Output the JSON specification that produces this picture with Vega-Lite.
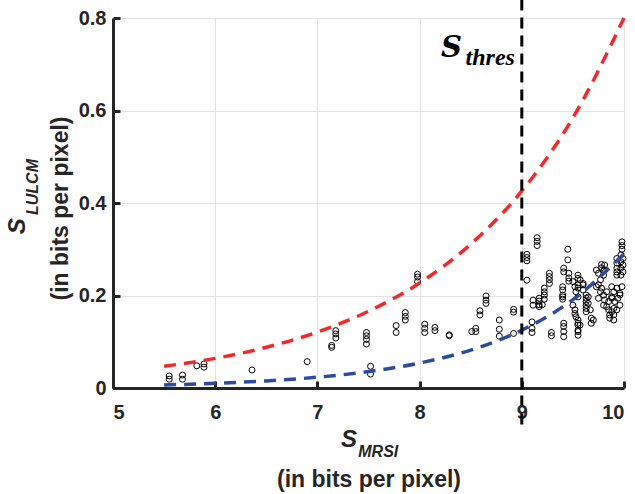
{
  "$schema": "https://vega.github.io/schema/vega-lite/v6.json",
  "width": 511,
  "height": 370,
  "autosize": {"type": "none"},
  "padding": {"left": 113, "top": 18, "right": 11, "bottom": 106},
  "background": "white",
  "config": {
    "view": {"stroke": null},
    "axis": {
      "domainColor": "#262626",
      "domainWidth": 3,
      "tickColor": "#262626",
      "tickWidth": 3,
      "gridColor": "#e3e3e3",
      "gridWidth": 1,
      "labelFont": "Liberation Sans",
      "labelFontWeight": "bold",
      "labelFontSize": 20,
      "labelColor": "#262626",
      "titleFont": "Liberation Sans",
      "titleFontWeight": "bold",
      "titleFontSize": 23,
      "titleColor": "#262626"
    }
  },
  "resolve": {"axis": {"x": "independent", "y": "independent"}},
  "datasets": {
    "samples": [
      {"s_mrsi": 5.55, "s_lulcm": 0.019}, {"s_mrsi": 5.55, "s_lulcm": 0.026},
      {"s_mrsi": 5.68, "s_lulcm": 0.019}, {"s_mrsi": 5.68, "s_lulcm": 0.028},
      {"s_mrsi": 5.82, "s_lulcm": 0.048}, {"s_mrsi": 5.89, "s_lulcm": 0.045},
      {"s_mrsi": 5.89, "s_lulcm": 0.052}, {"s_mrsi": 6.36, "s_lulcm": 0.039},
      {"s_mrsi": 6.9, "s_lulcm": 0.057}, {"s_mrsi": 7.14, "s_lulcm": 0.088},
      {"s_mrsi": 7.14, "s_lulcm": 0.092}, {"s_mrsi": 7.18, "s_lulcm": 0.108},
      {"s_mrsi": 7.18, "s_lulcm": 0.117}, {"s_mrsi": 7.18, "s_lulcm": 0.124},
      {"s_mrsi": 7.48, "s_lulcm": 0.095}, {"s_mrsi": 7.48, "s_lulcm": 0.105},
      {"s_mrsi": 7.48, "s_lulcm": 0.113}, {"s_mrsi": 7.48, "s_lulcm": 0.12},
      {"s_mrsi": 7.52, "s_lulcm": 0.03}, {"s_mrsi": 7.52, "s_lulcm": 0.047},
      {"s_mrsi": 7.77, "s_lulcm": 0.12}, {"s_mrsi": 7.77, "s_lulcm": 0.135},
      {"s_mrsi": 7.86, "s_lulcm": 0.147}, {"s_mrsi": 7.86, "s_lulcm": 0.155},
      {"s_mrsi": 7.86, "s_lulcm": 0.163}, {"s_mrsi": 7.98, "s_lulcm": 0.23},
      {"s_mrsi": 7.98, "s_lulcm": 0.24}, {"s_mrsi": 7.98, "s_lulcm": 0.246},
      {"s_mrsi": 8.05, "s_lulcm": 0.12}, {"s_mrsi": 8.05, "s_lulcm": 0.129},
      {"s_mrsi": 8.05, "s_lulcm": 0.138}, {"s_mrsi": 8.15, "s_lulcm": 0.124},
      {"s_mrsi": 8.15, "s_lulcm": 0.131}, {"s_mrsi": 8.29, "s_lulcm": 0.113},
      {"s_mrsi": 8.29, "s_lulcm": 0.115}, {"s_mrsi": 8.51, "s_lulcm": 0.122},
      {"s_mrsi": 8.55, "s_lulcm": 0.122}, {"s_mrsi": 8.55, "s_lulcm": 0.129},
      {"s_mrsi": 8.59, "s_lulcm": 0.158}, {"s_mrsi": 8.59, "s_lulcm": 0.167},
      {"s_mrsi": 8.65, "s_lulcm": 0.183}, {"s_mrsi": 8.65, "s_lulcm": 0.19},
      {"s_mrsi": 8.65, "s_lulcm": 0.199}, {"s_mrsi": 8.78, "s_lulcm": 0.112},
      {"s_mrsi": 8.78, "s_lulcm": 0.127}, {"s_mrsi": 8.78, "s_lulcm": 0.147},
      {"s_mrsi": 8.92, "s_lulcm": 0.118}, {"s_mrsi": 8.92, "s_lulcm": 0.164},
      {"s_mrsi": 8.92, "s_lulcm": 0.17},
      {"s_mrsi": 9.05, "s_lulcm": 0.233}, {"s_mrsi": 9.05, "s_lulcm": 0.275},
      {"s_mrsi": 9.05, "s_lulcm": 0.282}, {"s_mrsi": 9.05, "s_lulcm": 0.289},
      {"s_mrsi": 9.1, "s_lulcm": 0.12}, {"s_mrsi": 9.1, "s_lulcm": 0.129},
      {"s_mrsi": 9.1, "s_lulcm": 0.143}, {"s_mrsi": 9.11, "s_lulcm": 0.179},
      {"s_mrsi": 9.11, "s_lulcm": 0.19}, {"s_mrsi": 9.15, "s_lulcm": 0.308},
      {"s_mrsi": 9.15, "s_lulcm": 0.317}, {"s_mrsi": 9.15, "s_lulcm": 0.325},
      {"s_mrsi": 9.17, "s_lulcm": 0.176}, {"s_mrsi": 9.17, "s_lulcm": 0.18},
      {"s_mrsi": 9.17, "s_lulcm": 0.188}, {"s_mrsi": 9.17, "s_lulcm": 0.194},
      {"s_mrsi": 9.2, "s_lulcm": 0.18}, {"s_mrsi": 9.22, "s_lulcm": 0.192},
      {"s_mrsi": 9.22, "s_lulcm": 0.201}, {"s_mrsi": 9.22, "s_lulcm": 0.208},
      {"s_mrsi": 9.22, "s_lulcm": 0.216}, {"s_mrsi": 9.27, "s_lulcm": 0.226},
      {"s_mrsi": 9.27, "s_lulcm": 0.234}, {"s_mrsi": 9.27, "s_lulcm": 0.241},
      {"s_mrsi": 9.27, "s_lulcm": 0.248}, {"s_mrsi": 9.29, "s_lulcm": 0.113},
      {"s_mrsi": 9.29, "s_lulcm": 0.12}, {"s_mrsi": 9.4, "s_lulcm": 0.192},
      {"s_mrsi": 9.4, "s_lulcm": 0.197}, {"s_mrsi": 9.4, "s_lulcm": 0.201},
      {"s_mrsi": 9.4, "s_lulcm": 0.212}, {"s_mrsi": 9.4, "s_lulcm": 0.219},
      {"s_mrsi": 9.41, "s_lulcm": 0.111}, {"s_mrsi": 9.41, "s_lulcm": 0.122},
      {"s_mrsi": 9.41, "s_lulcm": 0.133}, {"s_mrsi": 9.41, "s_lulcm": 0.14},
      {"s_mrsi": 9.41, "s_lulcm": 0.251}, {"s_mrsi": 9.41, "s_lulcm": 0.259},
      {"s_mrsi": 9.45, "s_lulcm": 0.277}, {"s_mrsi": 9.45, "s_lulcm": 0.3},
      {"s_mrsi": 9.46, "s_lulcm": 0.231}, {"s_mrsi": 9.46, "s_lulcm": 0.238},
      {"s_mrsi": 9.46, "s_lulcm": 0.248}, {"s_mrsi": 9.5, "s_lulcm": 0.179},
      {"s_mrsi": 9.5, "s_lulcm": 0.23}, {"s_mrsi": 9.52, "s_lulcm": 0.161},
      {"s_mrsi": 9.52, "s_lulcm": 0.169}, {"s_mrsi": 9.52, "s_lulcm": 0.219},
      {"s_mrsi": 9.53, "s_lulcm": 0.208}, {"s_mrsi": 9.53, "s_lulcm": 0.154},
      {"s_mrsi": 9.55, "s_lulcm": 0.114}, {"s_mrsi": 9.55, "s_lulcm": 0.122},
      {"s_mrsi": 9.55, "s_lulcm": 0.125}, {"s_mrsi": 9.55, "s_lulcm": 0.136},
      {"s_mrsi": 9.55, "s_lulcm": 0.14}, {"s_mrsi": 9.55, "s_lulcm": 0.147},
      {"s_mrsi": 9.55, "s_lulcm": 0.197}, {"s_mrsi": 9.55, "s_lulcm": 0.216},
      {"s_mrsi": 9.55, "s_lulcm": 0.223}, {"s_mrsi": 9.55, "s_lulcm": 0.237},
      {"s_mrsi": 9.55, "s_lulcm": 0.244}, {"s_mrsi": 9.57, "s_lulcm": 0.234},
      {"s_mrsi": 9.57, "s_lulcm": 0.136}, {"s_mrsi": 9.6, "s_lulcm": 0.212},
      {"s_mrsi": 9.6, "s_lulcm": 0.223}, {"s_mrsi": 9.6, "s_lulcm": 0.226},
      {"s_mrsi": 9.63, "s_lulcm": 0.165}, {"s_mrsi": 9.63, "s_lulcm": 0.172},
      {"s_mrsi": 9.63, "s_lulcm": 0.179}, {"s_mrsi": 9.63, "s_lulcm": 0.187},
      {"s_mrsi": 9.63, "s_lulcm": 0.194}, {"s_mrsi": 9.63, "s_lulcm": 0.201},
      {"s_mrsi": 9.65, "s_lulcm": 0.197}, {"s_mrsi": 9.65, "s_lulcm": 0.183},
      {"s_mrsi": 9.67, "s_lulcm": 0.169}, {"s_mrsi": 9.68, "s_lulcm": 0.14},
      {"s_mrsi": 9.68, "s_lulcm": 0.151}, {"s_mrsi": 9.7, "s_lulcm": 0.147},
      {"s_mrsi": 9.73, "s_lulcm": 0.255}, {"s_mrsi": 9.73, "s_lulcm": 0.219},
      {"s_mrsi": 9.75, "s_lulcm": 0.248}, {"s_mrsi": 9.75, "s_lulcm": 0.223},
      {"s_mrsi": 9.75, "s_lulcm": 0.194}, {"s_mrsi": 9.77, "s_lulcm": 0.234},
      {"s_mrsi": 9.77, "s_lulcm": 0.208}, {"s_mrsi": 9.78, "s_lulcm": 0.216},
      {"s_mrsi": 9.78, "s_lulcm": 0.26}, {"s_mrsi": 9.78, "s_lulcm": 0.267},
      {"s_mrsi": 9.8, "s_lulcm": 0.244}, {"s_mrsi": 9.8, "s_lulcm": 0.253},
      {"s_mrsi": 9.8, "s_lulcm": 0.179}, {"s_mrsi": 9.8, "s_lulcm": 0.201},
      {"s_mrsi": 9.81, "s_lulcm": 0.255}, {"s_mrsi": 9.81, "s_lulcm": 0.266},
      {"s_mrsi": 9.81, "s_lulcm": 0.19}, {"s_mrsi": 9.83, "s_lulcm": 0.176},
      {"s_mrsi": 9.83, "s_lulcm": 0.208}, {"s_mrsi": 9.85, "s_lulcm": 0.169},
      {"s_mrsi": 9.85, "s_lulcm": 0.187}, {"s_mrsi": 9.86, "s_lulcm": 0.151},
      {"s_mrsi": 9.86, "s_lulcm": 0.158}, {"s_mrsi": 9.88, "s_lulcm": 0.165},
      {"s_mrsi": 9.88, "s_lulcm": 0.219}, {"s_mrsi": 9.88, "s_lulcm": 0.197},
      {"s_mrsi": 9.88, "s_lulcm": 0.194}, {"s_mrsi": 9.9, "s_lulcm": 0.147},
      {"s_mrsi": 9.9, "s_lulcm": 0.172}, {"s_mrsi": 9.9, "s_lulcm": 0.208},
      {"s_mrsi": 9.9, "s_lulcm": 0.158}, {"s_mrsi": 9.91, "s_lulcm": 0.187},
      {"s_mrsi": 9.93, "s_lulcm": 0.169}, {"s_mrsi": 9.93, "s_lulcm": 0.216},
      {"s_mrsi": 9.93, "s_lulcm": 0.244}, {"s_mrsi": 9.93, "s_lulcm": 0.251},
      {"s_mrsi": 9.93, "s_lulcm": 0.259}, {"s_mrsi": 9.93, "s_lulcm": 0.27},
      {"s_mrsi": 9.93, "s_lulcm": 0.28}, {"s_mrsi": 9.94, "s_lulcm": 0.194},
      {"s_mrsi": 9.96, "s_lulcm": 0.179}, {"s_mrsi": 9.96, "s_lulcm": 0.205},
      {"s_mrsi": 9.96, "s_lulcm": 0.201}, {"s_mrsi": 9.97, "s_lulcm": 0.244},
      {"s_mrsi": 9.97, "s_lulcm": 0.259}, {"s_mrsi": 9.97, "s_lulcm": 0.273},
      {"s_mrsi": 9.97, "s_lulcm": 0.288}, {"s_mrsi": 9.98, "s_lulcm": 0.219},
      {"s_mrsi": 9.98, "s_lulcm": 0.3}, {"s_mrsi": 9.98, "s_lulcm": 0.308},
      {"s_mrsi": 9.98, "s_lulcm": 0.316}, {"s_mrsi": 9.99, "s_lulcm": 0.266},
      {"s_mrsi": 9.99, "s_lulcm": 0.251}, {"s_mrsi": 9.99, "s_lulcm": 0.28}
    ],
    "upper": [
      {"s_mrsi": 5.5, "s_lulcm": 0.047}, {"s_mrsi": 6, "s_lulcm": 0.064},
      {"s_mrsi": 6.5, "s_lulcm": 0.088}, {"s_mrsi": 7, "s_lulcm": 0.121},
      {"s_mrsi": 7.5, "s_lulcm": 0.166}, {"s_mrsi": 8, "s_lulcm": 0.227},
      {"s_mrsi": 8.5, "s_lulcm": 0.311}, {"s_mrsi": 9, "s_lulcm": 0.426},
      {"s_mrsi": 9.5, "s_lulcm": 0.584}, {"s_mrsi": 10, "s_lulcm": 0.8}
    ],
    "lower": [
      {"s_mrsi": 5.5, "s_lulcm": 0.0066}, {"s_mrsi": 6, "s_lulcm": 0.0101},
      {"s_mrsi": 6.5, "s_lulcm": 0.0153}, {"s_mrsi": 7, "s_lulcm": 0.0233},
      {"s_mrsi": 7.5, "s_lulcm": 0.0355}, {"s_mrsi": 8, "s_lulcm": 0.054},
      {"s_mrsi": 8.5, "s_lulcm": 0.082}, {"s_mrsi": 9, "s_lulcm": 0.125},
      {"s_mrsi": 9.5, "s_lulcm": 0.191}, {"s_mrsi": 10, "s_lulcm": 0.29}
    ],
    "anchor": [{}]
  },
  "layer": [
    {
      "data": {"name": "samples"},
      "mark": {"type": "point", "shape": "circle", "filled": false, "stroke": "black", "strokeWidth": 1, "size": 36, "opacity": 1},
      "encoding": {
        "x": {
          "field": "s_mrsi", "type": "quantitative",
          "scale": {"domain": [5, 10], "nice": false, "zero": false},
          "axis": {
            "values": [5, 6, 7, 8, 9, 10],
            "format": "d",
            "ticks": false,
            "labelPadding": 14,
            "title": "(in bits per pixel)",
            "titleY": 80,
            "titleBaseline": "top"
          }
        },
        "y": {
          "field": "s_lulcm", "type": "quantitative",
          "scale": {"domain": [0, 0.8], "nice": false, "zero": false},
          "axis": {
            "values": [0, 0.2, 0.4, 0.6, 0.8],
            "format": ".1~f",
            "ticks": false,
            "labelPadding": 7,
            "title": "(in bits per pixel)",
            "titleX": -53,
            "titleY": 190,
            "titleBaseline": "middle",
            "titleAngle": -90
          }
        }
      }
    },
    {
      "data": {"name": "upper"},
      "mark": {"type": "line", "color": "#f42a2a", "strokeWidth": 3.5, "strokeDash": [12, 8], "interpolate": "monotone"},
      "encoding": {
        "x": {
          "field": "s_mrsi", "type": "quantitative",
          "axis": {"orient": "top", "offset": -370, "values": [5, 6, 7, 8, 9, 10], "labels": false, "domain": false, "grid": false, "ticks": true, "tickSize": 7, "title": null}
        },
        "y": {
          "field": "s_lulcm", "type": "quantitative",
          "axis": {"orient": "right", "offset": -511, "values": [0, 0.2, 0.4, 0.6, 0.8], "labels": false, "domain": false, "grid": false, "ticks": true, "tickSize": 7, "title": null}
        }
      }
    },
    {
      "data": {"name": "lower"},
      "mark": {"type": "line", "color": "#2c4ba2", "strokeWidth": 3.5, "strokeDash": [12, 8], "interpolate": "monotone"},
      "encoding": {
        "x": {"field": "s_mrsi", "type": "quantitative", "axis": null},
        "y": {"field": "s_lulcm", "type": "quantitative", "axis": null}
      }
    },
    {
      "data": {"name": "anchor"},
      "mark": {"type": "rule", "color": "black", "strokeWidth": 3, "strokeDash": [11, 7], "clip": false},
      "encoding": {
        "x": {"datum": 9, "type": "quantitative", "axis": null},
        "y": {"datum": 0.84, "type": "quantitative", "axis": null},
        "y2": {"datum": -0.09}
      }
    },
    {
      "data": {"name": "anchor"},
      "mark": {"type": "text", "clip": false, "font": "DejaVu Serif", "fontWeight": "bold", "fontStyle": "italic", "fontSize": 29, "align": "left", "baseline": "alphabetic", "color": "black"},
      "encoding": {
        "x": {"datum": 8.21, "type": "quantitative", "axis": null},
        "y": {"datum": 0.716, "type": "quantitative", "axis": null},
        "text": {"value": "S"}
      }
    },
    {
      "data": {"name": "anchor"},
      "mark": {"type": "text", "clip": false, "font": "Liberation Serif", "fontWeight": "bold", "fontStyle": "italic", "fontSize": 24, "align": "left", "baseline": "alphabetic", "color": "black"},
      "encoding": {
        "x": {"datum": 8.45, "type": "quantitative", "axis": null},
        "y": {"datum": 0.698, "type": "quantitative", "axis": null},
        "text": {"value": "thres"}
      }
    },
    {
      "data": {"name": "anchor"},
      "mark": {"type": "text", "clip": false, "font": "Liberation Sans", "fontWeight": "bold", "fontStyle": "italic", "fontSize": 24, "align": "center", "baseline": "alphabetic", "color": "#262626"},
      "encoding": {
        "x": {"datum": 7.31, "type": "quantitative", "axis": null},
        "y": {"datum": -0.128, "type": "quantitative", "axis": null},
        "text": {"value": "S"}
      }
    },
    {
      "data": {"name": "anchor"},
      "mark": {"type": "text", "clip": false, "font": "Liberation Sans", "fontWeight": "bold", "fontStyle": "italic", "fontSize": 16, "align": "left", "baseline": "alphabetic", "color": "#262626"},
      "encoding": {
        "x": {"datum": 7.4, "type": "quantitative", "axis": null},
        "y": {"datum": -0.149, "type": "quantitative", "axis": null},
        "text": {"value": "MRSI"}
      }
    },
    {
      "data": {"name": "anchor"},
      "mark": {"type": "text", "clip": false, "font": "Liberation Sans", "fontWeight": "bold", "fontStyle": "italic", "fontSize": 24, "align": "center", "baseline": "alphabetic", "angle": 270, "color": "#262626"},
      "encoding": {
        "x": {"datum": 4.139, "type": "quantitative", "axis": null},
        "y": {"datum": 0.35, "type": "quantitative", "axis": null},
        "text": {"value": "S"}
      }
    },
    {
      "data": {"name": "anchor"},
      "mark": {"type": "text", "clip": false, "font": "Liberation Sans", "fontWeight": "bold", "fontStyle": "italic", "fontSize": 16, "align": "left", "baseline": "alphabetic", "angle": 270, "color": "#262626"},
      "encoding": {
        "x": {"datum": 4.266, "type": "quantitative", "axis": null},
        "y": {"datum": 0.374, "type": "quantitative", "axis": null},
        "text": {"value": "LULCM"}
      }
    }
  ]
}
